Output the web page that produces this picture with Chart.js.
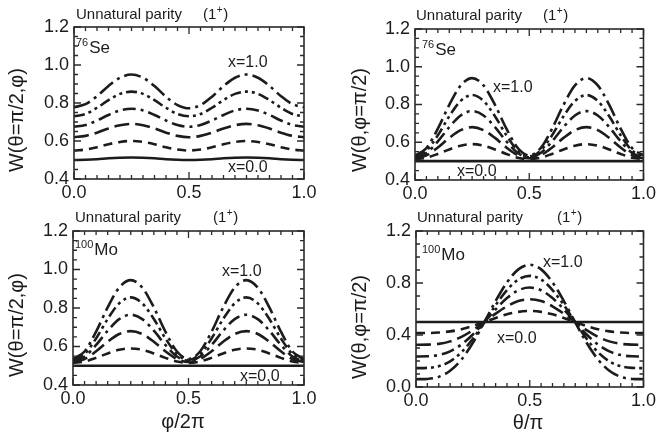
<!DOCTYPE html>
<html lang="en">
<head>
<meta charset="UTF-8">
<title>Unnatural parity angular distributions</title>
<style>
  body { margin: 0; background: #fff; }
  #wrap { position: relative; width: 659px; height: 436px; overflow: hidden; }
  .panel { position: absolute; }
</style>
<script src="https://cdn.jsdelivr.net/npm/chart.js"></script>
</head>
<body>
<div id="wrap">
  <div class="panel" style="left:0;top:0;width:330px;height:205px"><canvas id="c1"></canvas></div>
  <div class="panel" style="left:330px;top:0;width:329px;height:205px"><canvas id="c2"></canvas></div>
  <div class="panel" style="left:0;top:205px;width:330px;height:231px"><canvas id="c3"></canvas></div>
  <div class="panel" style="left:330px;top:205px;width:329px;height:231px"><canvas id="c4"></canvas></div>
</div>
<script>
// angle values (phi/2pi or theta/pi)
const tValues = [0, 0.05, 0.1, 0.15, 0.2, 0.25, 0.3, 0.35, 0.4, 0.45, 0.5,
                 0.55, 0.6, 0.65, 0.7, 0.75, 0.8, 0.85, 0.9, 0.95, 1.0];
const mixLabels = ["x=0.0", "x=0.2", "x=0.4", "x=0.6", "x=0.8", "x=1.0"];
const xTicks = [0, 0.5, 1.0];

// 76Se, W(theta=pi/2, phi)
const sePhi00 = [0.500,0.501,0.504,0.509,0.512,0.513,0.512,0.509,0.504,0.501,0.500,0.501,0.504,0.509,0.512,0.513,0.512,0.509,0.504,0.501,0.500];
const sePhi02 = [0.550,0.555,0.567,0.583,0.595,0.600,0.595,0.583,0.567,0.555,0.550,0.555,0.567,0.583,0.595,0.600,0.595,0.583,0.567,0.555,0.550];
const sePhi04 = [0.620,0.627,0.644,0.666,0.683,0.690,0.683,0.666,0.644,0.627,0.620,0.627,0.644,0.666,0.683,0.690,0.683,0.666,0.644,0.627,0.620];
const sePhi06 = [0.675,0.684,0.708,0.737,0.761,0.770,0.761,0.737,0.708,0.684,0.675,0.684,0.708,0.737,0.761,0.770,0.761,0.737,0.708,0.684,0.675];
const sePhi08 = [0.730,0.742,0.775,0.815,0.848,0.860,0.848,0.815,0.775,0.742,0.730,0.742,0.775,0.815,0.848,0.860,0.848,0.815,0.775,0.742,0.730];
const sePhi10 = [0.778,0.794,0.836,0.890,0.933,0.950,0.933,0.889,0.833,0.789,0.772,0.789,0.833,0.889,0.933,0.950,0.933,0.890,0.836,0.794,0.778];

// 76Se, W(theta, phi=pi/2)
const seTh00 = [0.500,0.500,0.500,0.500,0.500,0.500,0.500,0.500,0.500,0.500,0.500,0.500,0.500,0.500,0.500,0.500,0.500,0.500,0.500,0.500,0.500];
const seTh02 = [0.510,0.518,0.538,0.562,0.582,0.590,0.582,0.562,0.538,0.518,0.510,0.518,0.538,0.562,0.582,0.590,0.582,0.562,0.538,0.518,0.510];
const seTh04 = [0.515,0.531,0.572,0.623,0.664,0.680,0.664,0.623,0.572,0.531,0.515,0.531,0.572,0.623,0.664,0.680,0.664,0.623,0.572,0.531,0.515];
const seTh06 = [0.520,0.543,0.605,0.680,0.742,0.765,0.742,0.680,0.605,0.543,0.520,0.543,0.605,0.680,0.742,0.765,0.742,0.680,0.605,0.543,0.520];
const seTh08 = [0.525,0.556,0.637,0.738,0.819,0.850,0.819,0.738,0.637,0.556,0.525,0.556,0.637,0.738,0.819,0.850,0.819,0.738,0.637,0.556,0.525];
const seTh10 = [0.530,0.569,0.672,0.798,0.901,0.940,0.901,0.798,0.672,0.569,0.530,0.569,0.672,0.798,0.901,0.940,0.901,0.798,0.672,0.569,0.530];

// 100Mo, W(theta=pi/2, phi)
const moPhi00 = [0.500,0.500,0.500,0.500,0.500,0.500,0.500,0.500,0.500,0.500,0.500,0.500,0.500,0.500,0.500,0.500,0.500,0.500,0.500,0.500,0.500];
const moPhi02 = [0.515,0.522,0.541,0.564,0.583,0.590,0.583,0.564,0.541,0.522,0.515,0.522,0.541,0.564,0.583,0.590,0.583,0.564,0.541,0.522,0.515];
const moPhi04 = [0.520,0.535,0.575,0.625,0.665,0.680,0.665,0.625,0.575,0.535,0.520,0.535,0.575,0.625,0.665,0.680,0.665,0.625,0.575,0.535,0.520];
const moPhi06 = [0.525,0.548,0.608,0.682,0.742,0.765,0.742,0.682,0.608,0.548,0.525,0.548,0.608,0.682,0.742,0.765,0.742,0.682,0.608,0.548,0.525];
const moPhi08 = [0.530,0.561,0.642,0.743,0.824,0.855,0.824,0.743,0.642,0.561,0.530,0.561,0.642,0.743,0.824,0.855,0.824,0.743,0.642,0.561,0.530];
const moPhi10 = [0.535,0.574,0.677,0.803,0.906,0.945,0.906,0.803,0.677,0.574,0.535,0.574,0.677,0.803,0.906,0.945,0.906,0.803,0.677,0.574,0.535];

// 100Mo, W(theta, phi=pi/2)
const moTh00 = [0.500,0.500,0.500,0.500,0.500,0.500,0.500,0.500,0.500,0.500,0.500,0.500,0.500,0.500,0.500,0.500,0.500,0.500,0.500,0.500,0.500];
const moTh02 = [0.415,0.415,0.419,0.428,0.444,0.469,0.499,0.531,0.559,0.578,0.585,0.578,0.559,0.531,0.499,0.469,0.444,0.428,0.419,0.415,0.415];
const moTh04 = [0.325,0.326,0.332,0.351,0.386,0.437,0.499,0.564,0.621,0.661,0.675,0.661,0.621,0.564,0.499,0.437,0.386,0.351,0.332,0.326,0.325];
const moTh06 = [0.235,0.236,0.246,0.274,0.327,0.404,0.498,0.597,0.684,0.744,0.765,0.744,0.684,0.597,0.498,0.404,0.327,0.274,0.246,0.236,0.235];
const moTh08 = [0.145,0.147,0.160,0.197,0.268,0.371,0.498,0.630,0.746,0.827,0.855,0.827,0.746,0.630,0.498,0.371,0.268,0.197,0.160,0.147,0.145];
const moTh10 = [0.060,0.062,0.078,0.125,0.212,0.340,0.497,0.661,0.805,0.905,0.940,0.905,0.805,0.661,0.497,0.340,0.212,0.125,0.078,0.062,0.060];

const FONT = '"Liberation Sans", Arial, Helvetica, sans-serif';
const INK = '#1c1c1c';
// solid, dash, long dash, dash-dot, dash-dot-dot, long dash-dot
const dashes = [[], [9, 6], [15, 6], [13, 5, 3, 5], [11, 4, 3, 4, 3, 4], [17, 5, 3, 5]];

function makeSets(series) {
  return series.map((ys, k) => ({
    label: mixLabels[k],
    data: ys.map((y, i) => ({ x: tValues[i], y: y })),
    borderColor: INK,
    borderWidth: 2.6,
    borderDash: dashes[k],
    pointRadius: 0,
    cubicInterpolationMode: 'monotone',
    fill: false
  }));
}

// mass number as superscript in front of the element symbol
function nucleusLabel(ctx, mass, sym, x, y) {
  ctx.font = '11px ' + FONT;
  ctx.fillText(mass, x, y - 7);
  const w = ctx.measureText(mass).width;
  ctx.font = '17px ' + FONT;
  ctx.fillText(sym, x + w + 1, y);
}

const framePlugin = {
  id: 'frame',
  afterDatasetsDraw(chart) {
    const p = chart.options.plugins.frame;
    const { ctx, chartArea: a, scales } = chart;
    ctx.save();
    // border
    ctx.strokeStyle = '#2a2a2a';
    ctx.lineWidth = 1.6;
    ctx.strokeRect(a.left, a.top, a.right - a.left, a.bottom - a.top);
    // inside ticks, all four sides
    ctx.lineWidth = 1.3;
    ctx.beginPath();
    for (let i = 0; i <= 20; i++) {
      const px = scales.x.getPixelForValue(i / 20);
      const len = i % 10 === 0 ? 7 : 4;
      ctx.moveTo(px, a.bottom); ctx.lineTo(px, a.bottom - len);
      ctx.moveTo(px, a.top); ctx.lineTo(px, a.top + len);
    }
    const nY = Math.round((p.yMax - p.yMin) / p.yMinor);
    for (let j = 0; j <= nY; j++) {
      const py = scales.y.getPixelForValue(p.yMin + j * p.yMinor);
      const len = j % 4 === 0 ? 7 : 4;
      ctx.moveTo(a.left, py); ctx.lineTo(a.left + len, py);
      ctx.moveTo(a.right, py); ctx.lineTo(a.right - len, py);
    }
    ctx.stroke();

    ctx.fillStyle = INK;
    ctx.textAlign = 'left';
    ctx.textBaseline = 'alphabetic';
    // panel title
    ctx.font = '15px ' + FONT;
    ctx.fillText('Unnatural parity', p.title[0], p.title[1]);
    let x = p.title[2];
    ctx.fillText('(1', x, p.title[1]);
    x += ctx.measureText('(1').width + 0.5;
    ctx.font = '10px ' + FONT;
    ctx.fillText('+', x, p.title[1] - 6);
    x += ctx.measureText('+').width + 0.5;
    ctx.font = '15px ' + FONT;
    ctx.fillText(')', x, p.title[1]);
    // nucleus
    nucleusLabel(ctx, p.nucleus[0], p.nucleus[1], p.nucleus[2], p.nucleus[3]);
    // curve labels
    ctx.font = '16px ' + FONT;
    ctx.textBaseline = 'middle';
    ctx.fillText('x=1.0', p.top[0], p.top[1]);
    ctx.fillText('x=0.0', p.bot[0], p.bot[1]);
    // axis titles
    ctx.font = '20px ' + FONT;
    ctx.textAlign = 'center';
    ctx.save();
    ctx.translate(p.yTitle[1], p.yTitle[2]);
    ctx.rotate(-Math.PI / 2);
    ctx.fillText(p.yTitle[0], 0, 0);
    ctx.restore();
    if (p.xTitle) {
      ctx.font = '20px ' + FONT;
      ctx.fillText(p.xTitle[0], p.xTitle[1], p.xTitle[2]);
    }
    ctx.restore();
  }
};

function panel(id, series, box, yMin, yMax, yStep, yMinor, frame) {
  frame.yMin = yMin; frame.yMax = yMax; frame.yMinor = yMinor;
  return new Chart(document.getElementById(id), {
    type: 'line',
    data: { datasets: makeSets(series) },
    options: {
      responsive: true,
      maintainAspectRatio: false,
      animation: false,
      events: [],
      layout: { padding: { top: box.top, right: box.right, left: 0, bottom: 0 } },
      plugins: { legend: { display: false }, tooltip: { enabled: false }, frame: frame },
      scales: {
        x: {
          type: 'linear', min: 0, max: 1,
          afterBuildTicks: s => { s.ticks = xTicks.map(v => ({ value: v })); },
          afterFit: s => { s.height = box.xh; },
          grid: { display: false, drawTicks: false },
          border: { display: false },
          ticks: { padding: 3, color: INK, font: { size: 18, family: FONT }, maxRotation: 0,
                   callback: v => v.toFixed(1) }
        },
        y: {
          min: yMin, max: yMax,
          afterFit: s => { s.width = box.left; },
          grid: { display: false, drawTicks: false },
          border: { display: false },
          ticks: { stepSize: yStep, padding: 5, color: INK, font: { size: 18, family: FONT },
                   callback: v => v.toFixed(1) }
        }
      }
    },
    plugins: [framePlugin]
  });
}

panel('c1', [sePhi00, sePhi02, sePhi04, sePhi06, sePhi08, sePhi10],
  { left: 74, top: 27, right: 26, xh: 26 }, 0.4, 1.2, 0.2, 0.05,
  { title: [76, 19, 203], nucleus: ['76', 'Se', 76, 53], top: [228, 63], bot: [228, 168],
    yTitle: ['W(\u03b8=\u03c0/2,\u03c6)', 17, 120] });

panel('c2', [seTh00, seTh02, seTh04, seTh06, seTh08, seTh10],
  { left: 85, top: 29, right: 15, xh: 25 }, 0.4, 1.2, 0.2, 0.05,
  { title: [86, 20, 213], nucleus: ['76', 'Se', 92, 55], top: [163, 88], bot: [127, 172],
    yTitle: ['W(\u03b8,\u03c6=\u03c0/2)', 30, 120] });

panel('c3', [moPhi00, moPhi02, moPhi04, moPhi06, moPhi08, moPhi10],
  { left: 73, top: 26, right: 26, xh: 51 }, 0.4, 1.2, 0.2, 0.05,
  { title: [75, 17, 213], nucleus: ['100', 'Mo', 75, 50], top: [222, 67], bot: [240, 172],
    yTitle: ['W(\u03b8=\u03c0/2,\u03c6)', 17, 120], xTitle: ['\u03c6/2\u03c0', 183, 217] });

panel('c4', [moTh00, moTh02, moTh04, moTh06, moTh08, moTh10],
  { left: 86, top: 26, right: 14, xh: 49 }, 0.0, 1.2, 0.4, 0.1,
  { title: [87, 17, 227], nucleus: ['100', 'Mo', 92, 55], top: [213, 58], bot: [167, 134],
    yTitle: ['W(\u03b8,\u03c6=\u03c0/2)', 30, 122], xTitle: ['\u03b8/\u03c0', 198, 218] });
</script>
</body>
</html>
